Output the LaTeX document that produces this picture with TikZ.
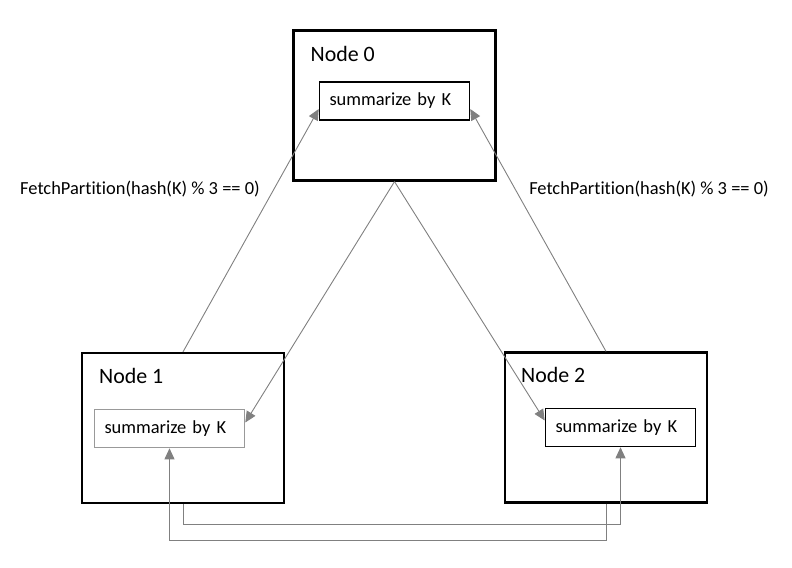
\documentclass[tikz,border=0pt]{standalone}
\usepackage{fontspec}
\setmainfont{Carlito}[Ligatures=NoCommon]
\usetikzlibrary{positioning,arrows.meta}

\begin{document}
\begin{tikzpicture}[
  x=1bp,y=-1bp,
  every node/.style={font=\fontsize{18.5}{20}\selectfont},
  host/.style={draw,line width=2.2bp,minimum width=202bp,minimum height=150bp,inner sep=0pt},
  hostname/.style={anchor=west,inner sep=0pt,font=\fontsize{22}{24}\selectfont},
  task/.style={draw,line width=1.6bp,minimum height=38bp,text width=130bp,
               inner xsep=10bp,inner ysep=0pt,align=left},
  link/.style={draw=black!50,line width=0.9bp,-{Triangle[length=11bp,width=10bp]}}
]
  \useasboundingbox (0,0) rectangle (792,568);

  \node[host] (n0) at (394.5,105.5) {};
  \node[host] (n1) at (183,428) {};
  \node[host] (n2) at (606,427.5) {};

  \node[hostname] (l0) at ([shift={(18,25)}]n0.north west) {Node 0};
  \node[hostname] (l1) at ([shift={(18,24)}]n1.north west) {Node 1};
  \node[hostname] (l2) at ([shift={(17,24)}]n2.north west) {Node 2};

  \node[task] (s0) at (394.5,101) {summarize by K};
  \node[task,draw=black!40] (s1) at (169.5,428.5) {summarize by K};
  \node[task] (s2) at (620.5,427.5) {summarize by K};

  \node (f1) at (140,189) {FetchPartition(hash(K) \% 3 == 0)};
  \node (f2) at (649,189) {FetchPartition(hash(K) \% 3 == 0)};

  % fetch requests
  \draw[link] (n1.north) -- ([yshift=-8bp]s0.west);
  \draw[link] (n2.north) -- ([yshift=-8bp]s0.east);
  \draw[link] (n0.south) -- ([yshift=6bp]s1.east);
  \draw[link] (n0.south) -- ([yshift=7bp]s2.west);

  % exchange between node 1 and node 2
  \draw[link] (n1.south) -- ++(0,20) -| (s2.south);
  \draw[link] (n2.south) -- ++(0,37) -| (s1.south);
\end{tikzpicture}
\end{document}
